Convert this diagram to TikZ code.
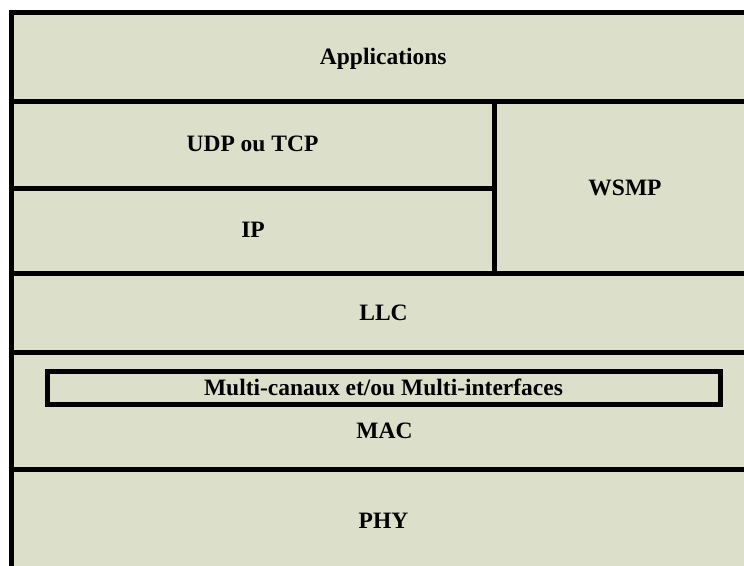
\documentclass[tikz,border=0pt]{standalone}
\usepackage{fontspec}
\setmainfont{Liberation Serif}
\definecolor{layerfill}{RGB}{220,224,202}
\begin{document}
\begin{tikzpicture}[x=1pt,y=-1pt,
  layer/.style={draw=black, fill=layerfill, line width=5pt, inner sep=0pt, rectangle},
  lbl/.style={font=\fontsize{23.5}{26}\selectfont\bfseries, inner sep=0pt, text height=15.5pt, text depth=0pt, anchor=center}]
\useasboundingbox (0,0) rectangle (744,565);
\fill[white] (0,0) rectangle (744,565);
\node[layer, minimum width=743.5pt, minimum height=89pt] (apps) at (383.25,57) {};
\node[layer, minimum width=483pt, minimum height=86.5pt] (udp) at (253,144.75) {};
\node[layer, minimum width=483pt, minimum height=85pt] (ip) at (253,230.5) {};
\node[layer, minimum width=260.5pt, minimum height=171.5pt] (wsmp) at (624.75,187.25) {};
\node[layer, minimum width=743.5pt, minimum height=79.5pt] (llc) at (383.25,312.75) {};
\node[layer, minimum width=743.5pt, minimum height=117pt] (mac) at (383.25,411) {};
\node[layer, minimum width=743.5pt, minimum height=103pt] (phy) at (383.25,521) {};
\node[layer, minimum width=672.5pt, minimum height=33pt] (multi) at (383.75,388) {};
\node[lbl] (tapps) at (383.25,56.5) {Applications};
\node[lbl] (tudp) at (252.5,143.5) {UDP ou TCP};
\node[lbl] (tip) at (253,229.5) {IP};
\node[lbl] (twsmp) at (625,187.5) {WSMP};
\node[lbl] (tllc) at (383.5,312.5) {LLC};
\node[lbl] (tmulti) at (383.5,387.5) {Multi-canaux et/ou Multi-interfaces};
\node[lbl] (tmac) at (384.5,431) {MAC};
\node[lbl] (tphy) at (383.5,521) {PHY};
\end{tikzpicture}
\end{document}
